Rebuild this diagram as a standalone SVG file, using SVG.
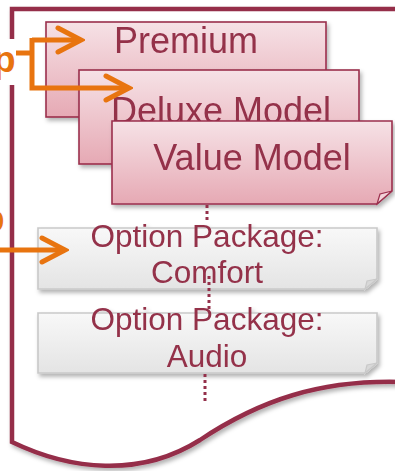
<svg xmlns="http://www.w3.org/2000/svg" width="395" height="471" viewBox="0 0 395 471">
<defs>
<linearGradient id="pink" x1="0" y1="0" x2="0" y2="1">
<stop offset="0" stop-color="#f6e2e6"/>
<stop offset="1" stop-color="#e6a9b4"/>
</linearGradient>
<linearGradient id="gray" x1="0" y1="0" x2="0" y2="1">
<stop offset="0" stop-color="#f8f8f8"/>
<stop offset="1" stop-color="#e4e4e4"/>
</linearGradient>
<filter id="shadow" x="-10%" y="-10%" width="130%" height="140%">
<feDropShadow dx="2" dy="3" stdDeviation="2" flood-color="#000" flood-opacity="0.3"/>
</filter>
<marker id="chev" viewBox="-28 -16 32 32" markerWidth="32" markerHeight="32" refX="0" refY="0" orient="auto" markerUnits="userSpaceOnUse">
<path d="M-23,-12 L0,0 L-23,12" fill="none" stroke="#e8740f" stroke-width="5" stroke-linecap="round"/>
</marker>
</defs>
<style>
.frame{fill:#fff;stroke:#952d4a;stroke-width:4.5;stroke-linejoin:miter}
.pcard{fill:url(#pink);stroke:#9b2f4d;stroke-width:1.6}
.gcard{fill:url(#gray);stroke:#c9c9c9;stroke-width:1.6}
.pfold{fill:#f2d3d9;stroke:#9b2f4d;stroke-width:1.2}
.gfold{fill:#d8d8d8;stroke:#c9c9c9;stroke-width:1.2}
.lbl{font-family:"Liberation Sans",Arial,sans-serif;fill:#94304a;text-anchor:middle}
.big{font-size:36px}
.mid{font-size:31.5px}
.dot{stroke:#94304a;stroke-width:3;stroke-dasharray:3 3;fill:none}
.orange{fill:none;stroke:#e8740f;stroke-width:5}
.otxt{font-family:"Liberation Sans",Arial,sans-serif;font-weight:bold;font-size:37px;fill:#e8740f;text-anchor:end}
</style>
<rect width="395" height="471" fill="#fff"/>
<g id="frame">
<path class="frame" filter="url(#shadow)" d="M400,9 H12 V442 C70,470 140,478 200,440 C260,400 320,380 400,382"/>
</g>
<g id="premium" filter="url(#shadow)">
<rect class="pcard" x="46" y="22" width="280" height="95"/>
<text class="lbl big" x="186" y="53">Premium</text>
</g>
<g id="deluxe" filter="url(#shadow)">
<rect class="pcard" x="79" y="70" width="280" height="94"/>
<text class="lbl big" x="221" y="123">Deluxe Model</text>
</g>
<g id="value" filter="url(#shadow)">
<path class="pcard" d="M112,121 H392 V191 L377,204 H112 Z"/>
<path class="pfold" d="M392,191 L380,194 L377,204 Z"/>
<text class="lbl big" x="252" y="170">Value Model</text>
</g>
<g id="comfort" filter="url(#shadow)">
<path class="gcard" d="M38,228 H377 V279 L365,289 H38 Z"/>
<path class="gfold" d="M377,279 L367,281 L365,289 Z"/>
<text class="lbl mid" x="207" y="247">Option Package:</text>
<text class="lbl mid" x="207" y="283">Comfort</text>
</g>
<g id="audio" filter="url(#shadow)">
<path class="gcard" d="M38,313 H377 V363 L365,373 H38 Z"/>
<path class="gfold" d="M377,363 L367,365 L365,373 Z"/>
<text class="lbl mid" x="207" y="330">Option Package:</text>
<text class="lbl mid" x="207" y="367">Audio</text>
</g>
<g id="connectors">
<path class="dot" d="M207,205 V221"/>
<path class="dot" d="M209,276 V311"/>
<path class="dot" d="M205,374 V401"/>
<rect x="0" y="39" width="18" height="46" fill="#fff"/>
<path class="orange" d="M16,53 H32"/>
<path class="orange" d="M32,40 H81" marker-end="url(#chev)"/>
<path class="orange" d="M32,38 V88 H129" marker-end="url(#chev)"/>
<path class="orange" d="M-2,250 H65" marker-end="url(#chev)"/>
</g>
<g id="labels">
<text class="otxt" x="15.5" y="72">p</text>
<text class="otxt" x="4.5" y="231">p</text>
</g>
</svg>
